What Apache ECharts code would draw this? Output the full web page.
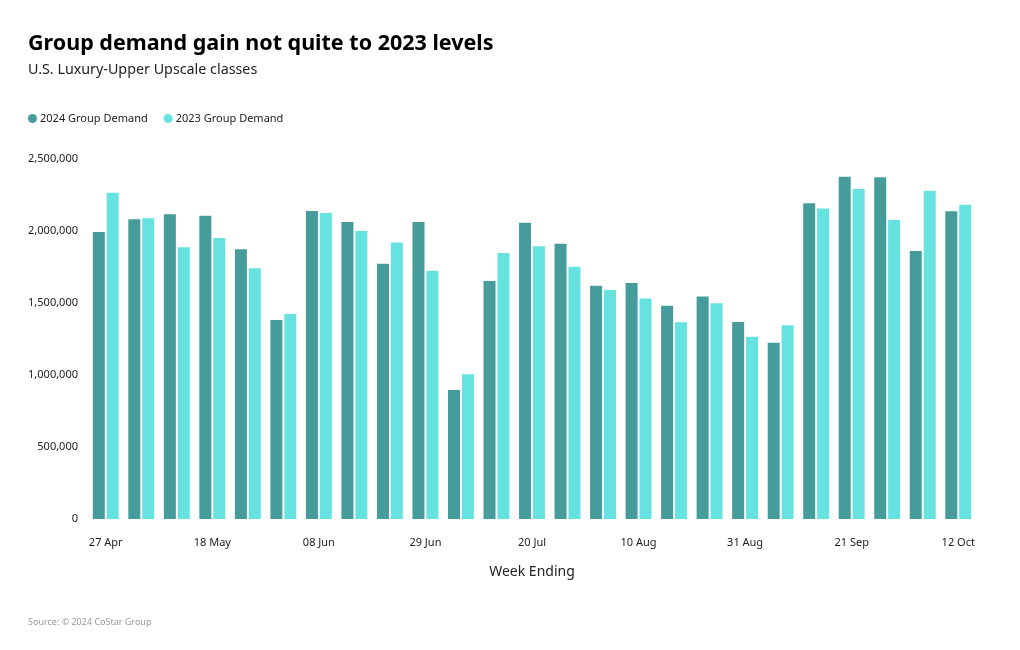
<!DOCTYPE html>
<html><head><meta charset="utf-8">
<script src="https://cdn.jsdelivr.net/npm/echarts@6/dist/echarts.min.js"></script>
<style>html,body{margin:0;padding:0;background:#fff}#c{width:1020px;height:650px}</style>
</head><body><div id="c"></div>
<script>
var categories = ["27 Apr","04 May","11 May","18 May","25 May","01 Jun","08 Jun","15 Jun","22 Jun","29 Jun","06 Jul","13 Jul","20 Jul","27 Jul","03 Aug","10 Aug","17 Aug","24 Aug","31 Aug","07 Sep","14 Sep","21 Sep","28 Sep","05 Oct","12 Oct"];
var demand2024 = [1993000,2081000,2116000,2106000,1873000,1382000,2139000,2063000,1773000,2063000,896000,1653000,2058000,1912000,1620000,1639000,1481000,1546000,1368000,1224000,2192000,2377000,2373000,1861000,2137000];
var demand2023 = [2266000,2088000,1887000,1951000,1741000,1424000,2125000,2000000,1921000,1724000,1005000,1847000,1894000,1752000,1590000,1532000,1366000,1498000,1266000,1345000,2157000,2292000,2076000,2280000,2183000];
var yTicks = [0,500000,1000000,1500000,2000000,2500000];

var FONT = "'Source Sans Pro','Noto Sans',sans-serif";
var chart = echarts.init(document.getElementById('c'));
chart.setOption({
  animation:false,
  textStyle:{fontFamily:FONT},
  title:[
    {text:"Group demand gain not quite to 2023 levels", left:23, top:28, textStyle:{fontSize:21.5, fontWeight:'bold', color:'#000', fontFamily:FONT}},
    {text:"U.S. Luxury-Upper Upscale classes", left:23, top:58, textStyle:{fontSize:14.3, fontWeight:'normal', color:'#222', fontFamily:FONT}},
    {text:"Source: © 2024 CoStar Group", left:23, top:613, textStyle:{fontSize:9, fontWeight:'normal', color:'#999', fontFamily:FONT}}
  ],
  legend:{left:23, top:108, icon:'circle', itemWidth:9, itemHeight:9, itemGap:16,
    textStyle:{fontSize:11, color:'#222', fontFamily:FONT, padding:[0,0,0,-2]},
    data:["2024 Group Demand","2023 Group Demand"]},
  grid:{left:88, right:44, top:159, bottom:131, containLabel:false},
  xAxis:{type:'category', data:categories, name:'Week Ending', nameLocation:'middle', nameGap:46,
    nameTextStyle:{fontSize:14, color:'#222', fontFamily:FONT},
    axisLine:{show:false}, axisTick:{show:false},
    axisLabel:{interval:2, margin:18, fontSize:11, color:'#222', fontFamily:FONT}},
  yAxis:{type:'value', min:0, max:2500000, interval:500000,
    axisLine:{show:false}, axisTick:{show:false}, splitLine:{show:false},
    axisLabel:{margin:10, fontSize:11, color:'#222', fontFamily:FONT,
      formatter:function(v){return v.toLocaleString('en-US');}}},
  series:[
    {name:"2024 Group Demand", type:'bar', data:demand2024, barGap:'16%', barCategoryGap:'27%', itemStyle:{color:'#469c9b'}},
    {name:"2023 Group Demand", type:'bar', data:demand2023, itemStyle:{color:'#66e3e0'}}
  ]
});
</script></body></html>
